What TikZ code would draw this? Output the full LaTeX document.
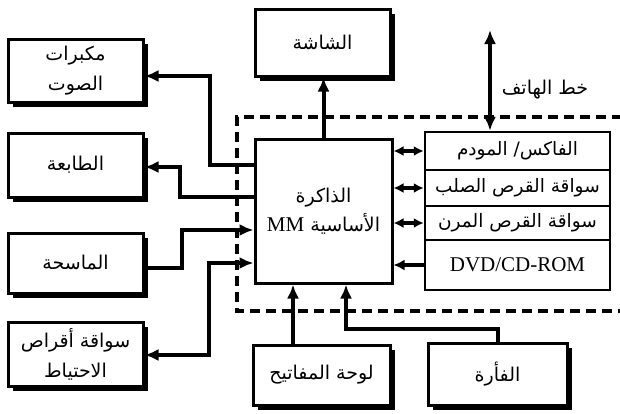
\documentclass[tikz,border=0pt]{standalone}
\usepackage{fontspec}
\setmainfont{Liberation Serif}
\newfontfamily\arabicfont[Script=Arabic]{DejaVu Sans}
\TeXXeTstate=1
\usetikzlibrary{arrows.meta,shadows}
\newcommand\artxt[1]{\beginR#1\endR}
\newcommand\lat[1]{{\rmfamily\fontsize{21}{29}\selectfont #1}}
\tikzset{
  shbox/.style={draw, line width=3pt, fill=white, inner sep=0pt, align=center,
    font=\arabicfont\fontsize{19}{30}\selectfont,
    drop shadow={shadow xshift=5pt, shadow yshift=-5pt, opacity=1, fill=black}},
  plainbox/.style={draw, line width=3pt, fill=white, inner sep=0pt, align=center,
    font=\arabicfont\fontsize{19}{29}\selectfont},
  rowbox/.style={draw, line width=2.5pt, fill=white, inner sep=0pt, align=center,
    minimum width=185, font=\arabicfont\fontsize{18.5}{20}\selectfont},
  conn/.style={line width=4pt, -{Latex[length=14pt,width=12pt]}},
  bconn/.style={line width=4pt, {Latex[length=14pt,width=12pt]}-{Latex[length=14pt,width=12pt]}},
  sconn/.style={line width=4pt, {Latex[length=10pt,width=10pt]}-{Latex[length=10pt,width=10pt]}},
  lconn/.style={line width=4pt, {Latex[length=11pt,width=11pt]}-},
  dashframe/.style={line width=3.5pt, dash pattern=on 10pt off 6pt},
  lbl/.style={font=\arabicfont\fontsize{19}{20}\selectfont, inner sep=0pt}
}
\begin{document}
\begin{tikzpicture}[x=1pt,y=-1pt]
\path[use as bounding box, fill=white] (0,0) rectangle (620,413);
\begin{scope}
\clip (0,0) rectangle (620,413);
% dashed frame
\draw[dashframe] (622,117) -- (237,117) -- (237,311) -- (622,311);

% boxes
\node[shbox, minimum width=135, minimum height=63] (spk) at (75.5,70.5) {\artxt{مكبرات}\\\artxt{الصوت}};
\node[shbox, minimum width=135, minimum height=64] (prn) at (75.5,165) {\artxt{الطابعة}};
\node[shbox, minimum width=135, minimum height=60] (scn) at (75.5,263) {\artxt{الماسحة}};
\node[shbox, minimum width=135, minimum height=64] (bak) at (75.5,354) {\artxt{سواقة أقراص}\\\artxt{الاحتياط}};
\node[shbox, minimum width=135, minimum height=67] (scr) at (322.5,42.5) {\artxt{الشاشة}};
\node[plainbox, minimum width=137, minimum height=144] (mm) at (323.5,211) {\artxt{الذاكرة}\\\artxt{الأساسية \lat{MM}}};
\node[shbox, minimum width=137, minimum height=60] (kbd) at (321.5,375) {\artxt{لوحة المفاتيح}};
\node[shbox, minimum width=139, minimum height=62] (mou) at (497.5,374) {\artxt{الفأرة}};

% storage stack
\node[rowbox, minimum height=38] (r1) at (517.5,151) {\artxt{الفاكس/ المودم}};
\node[rowbox, minimum height=36] (r2) at (517.5,188) {\artxt{سواقة القرص الصلب}};
\node[rowbox, minimum height=34] (r3) at (517.5,223) {\artxt{سواقة القرص المرن}};
\node[rowbox, minimum height=50] (r4) at (517.5,265) {\lat{DVD/CD-ROM}};

% phone line
\coordinate (ph) at (490,30);
\draw[bconn] (ph) -- (r1.north -| ph);
\node[lbl] (phl) at (545,90) {\artxt{خط الهاتف}};

% MM to screen
\draw[conn] (mm.north) -- (mm.north |- scr.south);

% MM to stack
\draw[sconn] (mm.east |- r1) -- (r1.west);
\draw[sconn] (mm.east |- r2) -- (r2.west);
\draw[sconn] (mm.east |- r3) -- (r3.west);
\draw[lconn] (mm.east |- r4) -- (r4.west);

% left side
\draw[conn] (mm.west |- 0,165) -- (210,165) -- (210,76) -- (spk.east |- 0,76);
\draw[conn] (mm.west |- 0,197) -- (180,197) -- (180,167) -- (prn.east |- 0,167);
\draw[conn] (scn.east |- 0,268) -- (182,268) -- (182,230) -- (mm.west |- 0,230);
\draw[bconn] (bak.east |- 0,355) -- (209,355) -- (209,263) -- (mm.west |- 0,263);

% bottom
\draw[conn] (kbd.north -| 293,0) -- (mm.south -| 293,0);
\draw[conn] (mou.north -| 498,0) -- (498,329) -- (346,329) -- (mm.south -| 346,0);
\end{scope}
\end{tikzpicture}
\end{document}
